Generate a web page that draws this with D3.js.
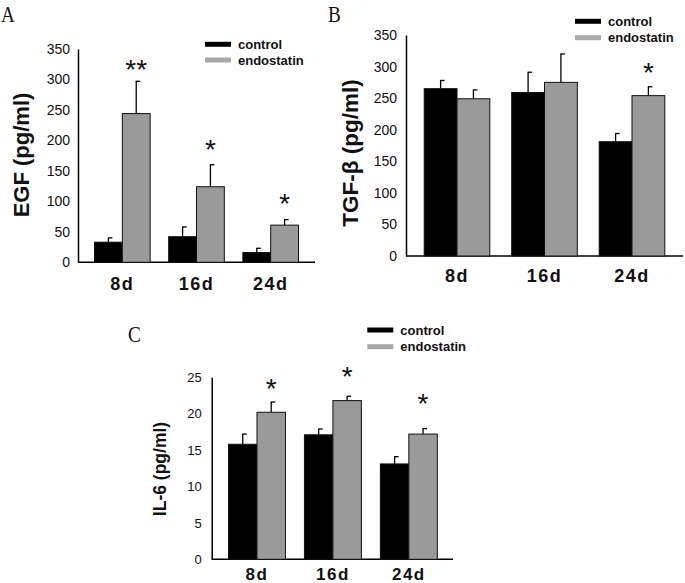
<!DOCTYPE html>
<html>
<head>
<meta charset="utf-8">
<script src="https://cdn.jsdelivr.net/npm/d3@7"></script>
<style>
  html, body { margin: 0; padding: 0; background: #fff; }
  svg { display: block; }
  .tick text { font-family: "Liberation Sans", Arial, sans-serif; }
</style>
</head>
<body>
<svg id="chart" width="685" height="583"></svg>
<script>
// ---------- data ----------
const categories = ["8d", "16d", "24d"];
const seriesNames = ["control", "endostatin"];

const egfControl = [33, 42, 16];
const egfControlErr = [7, 16, 7];
const egfEndostatin = [244, 124, 61];
const egfEndostatinErr = [53, 36, 9];
const egfStars = ["**", "*", "*"];
const egfStarLevel = [327, 196, 107];

const tgfControl = [265, 259, 181];
const tgfControlErr = [13, 32, 13];
const tgfEndostatin = [249, 275, 254];
const tgfEndostatinErr = [14, 45, 14];
const tgfStars = ["", "", "*"];
const tgfStarLevel = [0, 0, 301];

const il6Control = [15.8, 17.1, 13.1];
const il6ControlErr = [1.4, 0.8, 1.0];
const il6Endostatin = [20.2, 21.8, 17.2];
const il6EndostatinErr = [1.4, 0.6, 0.75];
const il6Stars = ["*", "*", "*"];
const il6StarLevel = [24.4, 26.0, 22.3];

const ticksEGF = [0, 50, 100, 150, 200, 250, 300, 350];
const ticksTGF = [0, 50, 100, 150, 200, 250, 300, 350];
const ticksIL6 = [0, 5, 10, 15, 20, 25];

// ---------- drawing ----------
const svg = d3.select("#chart");
const colors = { control: "#000000", endostatin: "#9a9a9a" };
const legendColors = { control: "#000000", endostatin: "#a8a8a8" };

function panel(cfg) {
  const g = svg.append("g");
  const y = d3.scaleLinear().domain([0, cfg.yMax]).range([cfg.yBase, cfg.yTop]);
  const x = d3.scaleBand().domain(categories)
    .range([cfg.c0 - cfg.step / 2, cfg.c0 + cfg.step * 2.5])
    .paddingInner(0.25).paddingOuter(0);
  const xs = d3.scaleBand().domain(seriesNames).range([0, x.bandwidth()]);

  const rows = categories.map((c, i) => ({
    cat: c,
    vals: [
      { s: "control", v: cfg.control[i], e: cfg.controlErr[i] },
      { s: "endostatin", v: cfg.endo[i], e: cfg.endoErr[i] }
    ],
    star: cfg.stars[i], starLevel: cfg.starLevel[i]
  }));

  // y axis
  const ya = d3.axisLeft(y).tickValues(cfg.ticks).tickSize(0).tickPadding(cfg.tickPad)
    .tickFormat(d3.format("d"));
  const yg = g.append("g").attr("transform", `translate(${cfg.x0},0)`).call(ya);
  yg.select(".domain").attr("stroke", "#000").attr("stroke-width", 1.5);
  yg.selectAll(".tick text").attr("font-size", cfg.tickFont).attr("fill", "#111");

  // x axis line
  g.append("line").attr("x1", cfg.x0).attr("x2", cfg.x1)
    .attr("y1", y(0)).attr("y2", y(0)).attr("stroke", "#000").attr("stroke-width", 1.5);

  // error bars (behind bars)
  const grp = g.selectAll(".grp").data(rows).join("g")
    .attr("transform", d => `translate(${x(d.cat)},0)`);
  grp.selectAll(".err").data(d => d.vals).join("g").each(function (d) {
    const cx = xs(d.s) + xs.bandwidth() / 2;
    const sel = d3.select(this);
    sel.append("line").attr("x1", cx).attr("x2", cx)
      .attr("y1", y(d.v)).attr("y2", y(d.v + d.e)).attr("stroke", "#000").attr("stroke-width", 1.3);
    sel.append("line").attr("x1", cx - 0.5).attr("x2", cx + 4)
      .attr("y1", y(d.v + d.e)).attr("y2", y(d.v + d.e)).attr("stroke", "#000").attr("stroke-width", 1.3);
  });
  grp.selectAll(".bar").data(d => d.vals).join("rect")
    .attr("x", d => xs(d.s)).attr("width", xs.bandwidth())
    .attr("y", d => y(d.v)).attr("height", d => y(0) - y(d.v))
    .attr("fill", d => colors[d.s]).attr("stroke", "#111").attr("stroke-width", 1);

  // stars
  grp.filter(d => d.star).append("text")
    .attr("x", xs("endostatin") + xs.bandwidth() / 2)
    .attr("y", d => y(d.starLevel) + 16)
    .attr("text-anchor", "middle")
    .attr("font-family", "'Liberation Sans', Arial, sans-serif")
    .attr("font-size", 28).attr("fill", "#111")
    .text(d => d.star);

  // x labels
  g.selectAll(".xl").data(categories).join("text")
    .attr("x", d => x(d) + x.bandwidth() / 2).attr("y", cfg.xLabelY)
    .attr("text-anchor", "middle")
    .attr("font-family", "'Liberation Sans', Arial, sans-serif")
    .attr("font-weight", "bold").attr("font-size", cfg.xFont)
    .attr("letter-spacing", 1.5).attr("fill", "#111")
    .text(d => d);

  // y title
  g.append("text")
    .attr("transform", `translate(${cfg.titleX},${cfg.titleY}) rotate(-90)`)
    .attr("text-anchor", "middle").attr("dominant-baseline", "central")
    .attr("font-family", "'Liberation Sans', Arial, sans-serif")
    .attr("font-weight", "bold").attr("font-size", cfg.titleFont).attr("fill", "#111")
    .text(cfg.title);

  // legend
  const lg = g.append("g");
  seriesNames.forEach((s, i) => {
    const ly = cfg.legY + i * cfg.legGap;
    lg.append("line").attr("x1", cfg.legX).attr("x2", cfg.legX + 26)
      .attr("y1", ly).attr("y2", ly).attr("stroke", legendColors[s]).attr("stroke-width", 5);
    lg.append("text").attr("x", cfg.legX + 33).attr("y", ly + 4.5)
      .attr("font-family", "'Liberation Sans Narrow', 'Arial Narrow', 'Liberation Sans', sans-serif")
      .attr("font-weight", "bold").attr("font-size", 13).attr("fill", "#111")
      .text(s);
  });

  // panel letter
  svg.append("text")
    .attr("transform", `translate(${cfg.letterX},${cfg.letterY}) scale(0.8,1)`)
    .attr("font-family", "'Liberation Serif', 'DejaVu Serif', serif")
    .attr("font-size", 24).attr("fill", "#111")
    .text(cfg.letter);
}

panel({
  letter: "A", letterX: 1, letterY: 22,
  control: egfControl, controlErr: egfControlErr, endo: egfEndostatin, endoErr: egfEndostatinErr,
  stars: egfStars, starLevel: egfStarLevel, ticks: ticksEGF, yMax: 350,
  x0: 78, x1: 315, yTop: 49, yBase: 262.3, c0: 128.5, step: 68,
  tickPad: 8, tickFont: 14, xFont: 18, xLabelY: 290,
  title: "EGF (pg/ml)", titleX: 21, titleY: 155, titleFont: 22,
  legX: 205, legY: 44.3, legGap: 15.7
});

panel({
  letter: "B", letterX: 328, letterY: 22,
  control: tgfControl, controlErr: tgfControlErr, endo: tgfEndostatin, endoErr: tgfEndostatinErr,
  stars: tgfStars, starLevel: tgfStarLevel, ticks: ticksTGF, yMax: 350,
  x0: 406, x1: 683, yTop: 35, yBase: 256, c0: 464.3, step: 80.2,
  tickPad: 9, tickFont: 14, xFont: 18, xLabelY: 282,
  title: "TGF-β (pg/ml)", titleX: 350, titleY: 153, titleFont: 22.5,
  legX: 575, legY: 21.3, legGap: 16.4
});

panel({
  letter: "C", letterX: 128, letterY: 342,
  control: il6Control, controlErr: il6ControlErr, endo: il6Endostatin, endoErr: il6EndostatinErr,
  stars: il6Stars, starLevel: il6StarLevel, ticks: ticksIL6, yMax: 25,
  x0: 211.7, x1: 453, yTop: 377.3, yBase: 559.3, c0: 263.3, step: 69.6,
  tickPad: 10, tickFont: 13, xFont: 17, xLabelY: 580,
  title: "IL-6 (pg/ml)", titleX: 160, titleY: 469, titleFont: 17.5,
  legX: 367.3, legY: 330, legGap: 16.7
});
</script>
</body>
</html>
